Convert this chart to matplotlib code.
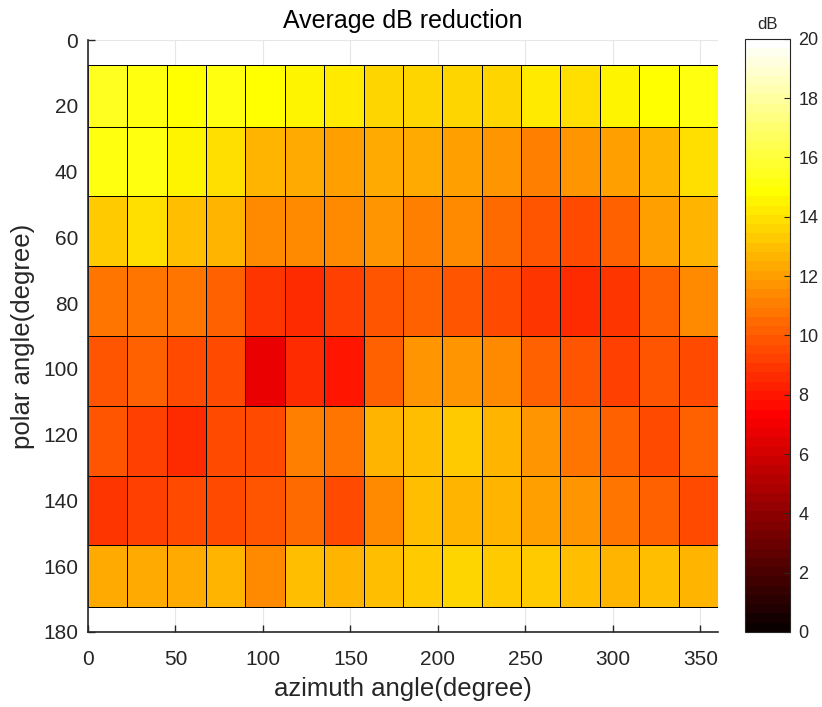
import matplotlib.pyplot as plt
import numpy as np
from matplotlib.colors import ListedColormap

# Cell edges (degrees)
AZIMUTH_EDGES = np.arange(0, 360.1, 22.5)
POLAR_EDGES = [7.6, 26.5, 47.4, 68.7, 90.0, 111.3, 132.6, 153.5, 172.4]

# Average dB reduction, one row per polar band, one column per azimuth band.
ROW_1 = [15.4, 15.0, 14.8, 15.1, 14.9, 14.5, 14.2, 13.7, 13.7, 13.6, 13.5, 14.3, 14.0, 14.5, 14.7, 15.1]
ROW_2 = [15.0, 15.0, 14.4, 13.9, 12.8, 12.4, 11.9, 12.4, 12.2, 11.9, 11.6, 11.0, 11.6, 11.9, 12.8, 14.0]
ROW_3 = [13.4, 13.9, 13.1, 12.5, 11.3, 11.3, 11.3, 11.6, 11.0, 11.3, 10.5, 9.8, 9.4, 10.0, 11.9, 12.5]
ROW_4 = [10.7, 10.7, 10.7, 10.0, 9.0, 8.7, 9.3, 9.8, 10.0, 9.9, 9.6, 9.0, 8.7, 9.0, 10.0, 11.3]
ROW_5 = [9.9, 10.1, 9.6, 9.4, 6.6, 8.7, 8.1, 10.1, 11.6, 11.6, 11.3, 10.3, 9.7, 9.1, 9.7, 9.6]
ROW_6 = [9.7, 9.1, 8.7, 9.4, 9.4, 11.0, 10.9, 12.5, 13.1, 13.4, 12.8, 11.6, 10.9, 10.1, 9.6, 10.1]
ROW_7 = [9.0, 9.3, 9.4, 9.4, 9.7, 10.5, 9.6, 11.3, 13.1, 12.8, 12.8, 11.9, 11.6, 10.7, 10.0, 9.6]
ROW_8 = [12.4, 12.4, 12.4, 12.5, 11.3, 13.1, 12.6, 12.9, 13.4, 13.7, 13.4, 13.4, 13.1, 12.8, 13.1, 12.5]

X_TICKS = np.arange(0, 351, 50)
Y_TICKS = np.arange(0, 181, 20)
CBAR_TICKS = np.arange(0, 21, 2)

TEXT_COLOR = (0.15, 0.15, 0.15)
plt.rcParams["font.family"] = ["Liberation Sans", "DejaVu Sans"]


def matlab_hot(n: int = 64) -> ListedColormap:
    # Same ramps as MATLAB's hot(n): red, then green, then blue.
    n1 = int(round(3 / 8 * n))
    n2 = n1
    idx = np.arange(1, n + 1)
    r = np.clip(idx / n1, 0, 1)
    g = np.clip((idx - n1) / n2, 0, 1)
    b = np.clip((idx - n1 - n2) / (n - n1 - n2), 0, 1)
    return ListedColormap(np.column_stack([r, g, b]))


def main() -> None:
    values = np.array([ROW_1, ROW_2, ROW_3, ROW_4, ROW_5, ROW_6, ROW_7, ROW_8])

    fig = plt.figure(figsize=(8.22, 7.07), dpi=100)
    ax = fig.add_axes([0.107, 0.1061, 0.7664, 0.8373])
    cax = fig.add_axes([0.9063, 0.1061, 0.0547, 0.8390])

    mesh = ax.pcolormesh(
        AZIMUTH_EDGES, POLAR_EDGES, values, cmap=matlab_hot(), vmin=0, vmax=20,
        edgecolors="black", linewidth=0.7,
    )

    ax.set_xlim(0, 360)
    ax.set_ylim(180, 0)
    ax.set_xticks(X_TICKS)
    ax.set_yticks(Y_TICKS)
    ax.grid(True, color=(0.9, 0.9, 0.9), linewidth=0.8)
    ax.set_axisbelow(True)
    for side in ("top", "right"):
        ax.spines[side].set_visible(False)
    for side in ("left", "bottom"):
        ax.spines[side].set_color(TEXT_COLOR)
        ax.spines[side].set_linewidth(1.2)
    ax.tick_params(direction="in", length=5, width=1, colors=TEXT_COLOR, labelsize=15)
    ax.tick_params(axis="x", pad=13)
    ax.tick_params(axis="y", pad=7)

    ax.set_title("Average dB reduction", fontsize=18, color="black", pad=9)
    ax.set_xlabel("azimuth angle(degree)", fontsize=18.5, color=TEXT_COLOR, labelpad=6)
    ax.set_ylabel("polar angle(degree)", fontsize=18.5, color=TEXT_COLOR, labelpad=6)

    cbar = fig.colorbar(mesh, cax=cax, ticks=CBAR_TICKS)
    cbar.outline.set_edgecolor(TEXT_COLOR)
    cbar.ax.tick_params(direction="in", length=4, colors=TEXT_COLOR, labelsize=13, pad=6)
    cbar.ax.set_title("dB", fontsize=12, color=TEXT_COLOR, pad=7)

    fig.savefig("out.png", dpi=100)


if __name__ == "__main__":
    main()
